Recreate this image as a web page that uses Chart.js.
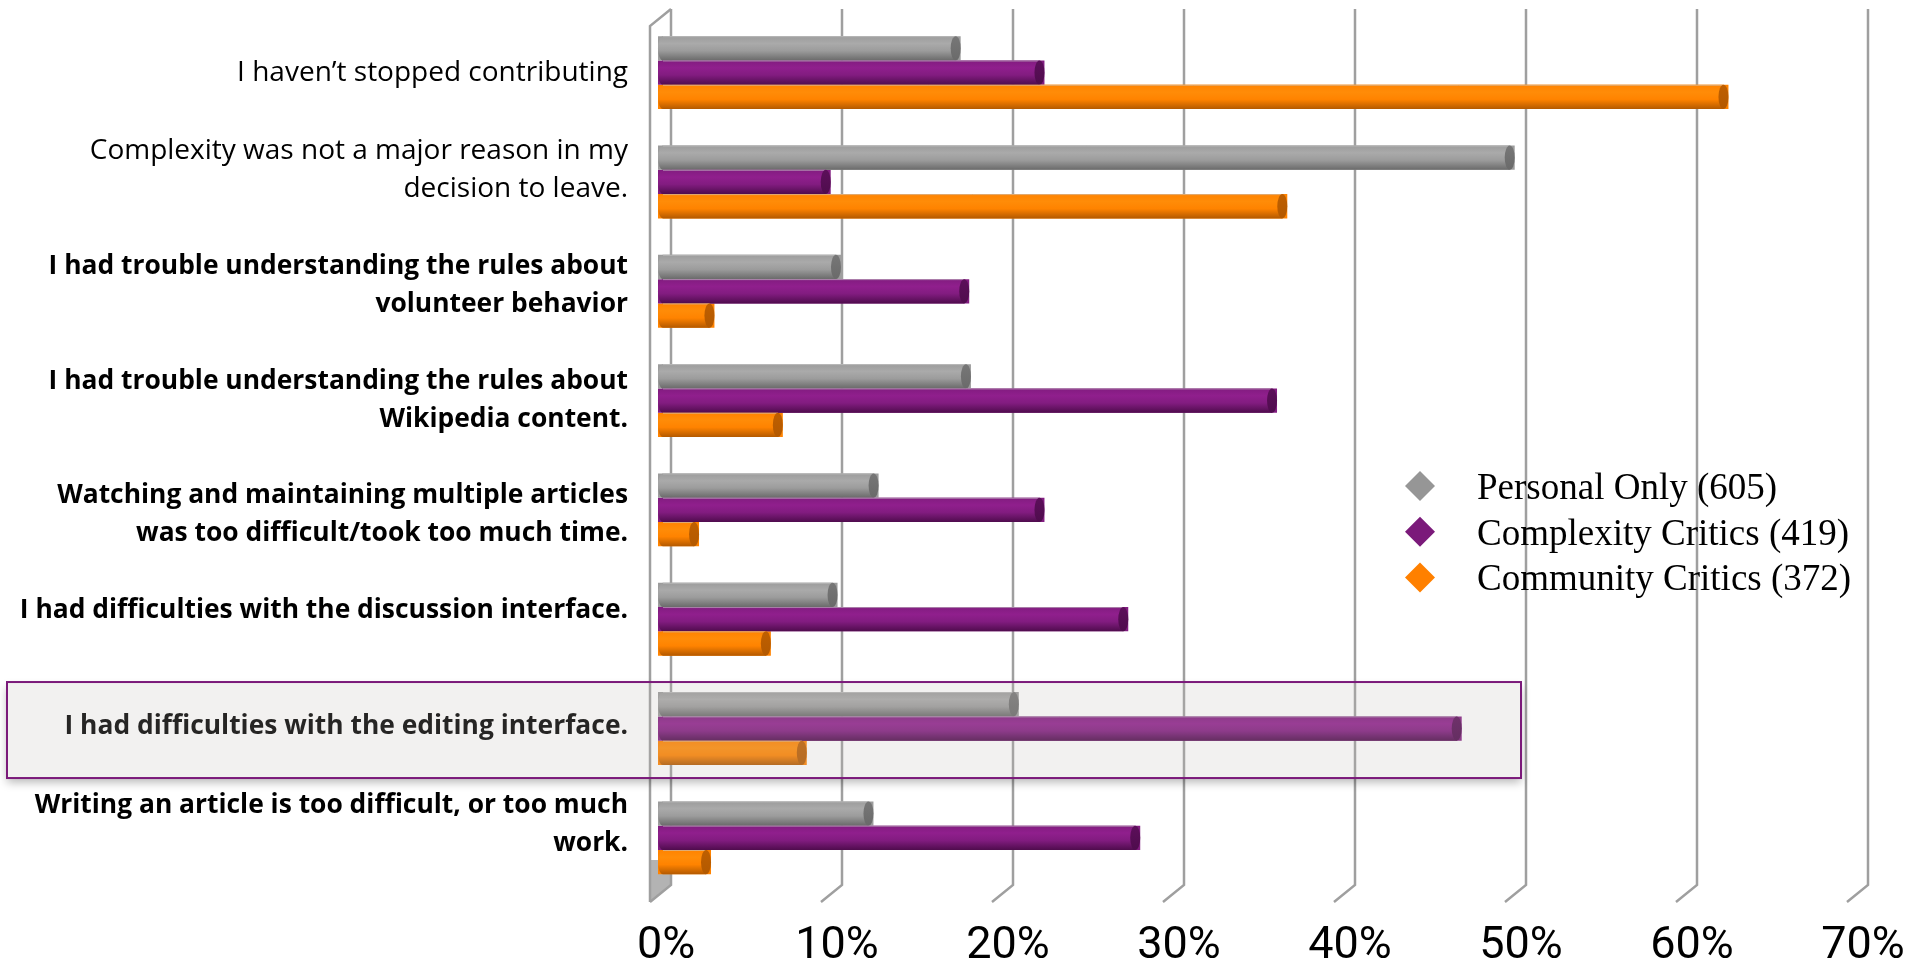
<!DOCTYPE html>
<html lang="en">
<head>
<meta charset="UTF-8">
<title>Why editors stopped contributing</title>
<script src="https://cdn.jsdelivr.net/npm/chart.js"></script>
<style>
  html, body { margin: 0; padding: 0; background: #fff; overflow: hidden; }
</style>
</head>
<body>
<canvas id="chart" width="1916" height="959"></canvas>
<script>
// answers, top to bottom
const reasons = [
  'I haven\u2019t stopped contributing',
  ['Complexity was not a major reason in my', 'decision to leave.'],
  ['I had trouble understanding the rules about', 'volunteer behavior'],
  ['I had trouble understanding the rules about', 'Wikipedia content.'],
  ['Watching and maintaining multiple articles', 'was too difficult/took too much time.'],
  'I had difficulties with the discussion interface.',
  'I had difficulties with the editing interface.',
  ['Writing an article is too difficult, or too much', 'work.']
];
const boldRows = [false, false, true, true, true, true, true, true];
const highlightRow = 6;

const seriesNames = ['Personal Only (605)', 'Complexity Critics (419)', 'Community Critics (372)'];
const personalOnly      = [17.7, 50.1, 10.7, 18.3, 12.9, 10.5, 21.1, 12.6];
const complexityCritics = [22.6, 10.1, 18.2, 36.2, 22.6, 27.5, 47.0, 28.2];
const communityCritics  = [62.6, 36.8,  3.3,  7.3,  2.4,  6.6,  8.7,  3.1];

const xTicks = [0, 10, 20, 30, 40, 50, 60, 70];

// the answer text boxes were placed by hand, not exactly on the row centre
const labelNudge = [0, -11.5, -6, 0, 5, -8.5, -2.5, -13];
const labelGap = 30, labelLine = 38;

// cylinder shading per series
const shades = [
  { base: '#9c9c9c', light: '#aaaaaa', dark: '#6a6a6a', cap: '#777777', key: '#969696' },
  { base: '#821c80', light: '#901f8d', dark: '#4f0c4d', cap: '#5c0f5a', key: '#7b1a7a' },
  { base: '#ff8300', light: '#ff8c08', dark: '#b35900', cap: '#bf5f00', key: '#ff8000' }
];

const backDx = 13;     // back wall offset from the bar plane
const floorDx = -21, floorDy = 17;
const gridTop = 9, gridBottom = 885;

const wallPlugin = {
  id: 'wall',
  beforeDatasetsDraw(chart) {
    const ctx = chart.ctx;
    const x = chart.scales.x;
    ctx.save();
    const x0 = x.getPixelForValue(0) + backDx;
    // floor edge of the side wall
    ctx.fillStyle = '#b3b3b3';
    ctx.beginPath();
    ctx.moveTo(x0 + floorDx, 860);
    ctx.lineTo(x0, 860);
    ctx.lineTo(x0, gridBottom);
    ctx.lineTo(x0 + floorDx, gridBottom + floorDy);
    ctx.closePath();
    ctx.fill();

    ctx.strokeStyle = '#9f9f9f';
    ctx.lineWidth = 2.5;
    // side wall outline
    ctx.beginPath();
    ctx.moveTo(x0, gridTop);
    ctx.lineTo(x0 + floorDx, gridTop + floorDy);
    ctx.lineTo(x0 + floorDx, gridBottom + floorDy);
    ctx.stroke();
    xTicks.forEach(v => {
      const px = x.getPixelForValue(v) + backDx;
      ctx.beginPath();
      ctx.moveTo(px, gridTop);
      ctx.lineTo(px, gridBottom);
      ctx.lineTo(px + floorDx, gridBottom + floorDy);
      ctx.stroke();
    });
    ctx.restore();
  }
};

// category text, right aligned against the bars
const answerPlugin = {
  id: 'answers',
  beforeDatasetsDraw(chart) {
    const ctx = chart.ctx;
    const yScale = chart.scales.y;
    ctx.save();
    ctx.fillStyle = '#000';
    ctx.textAlign = 'right';
    ctx.textBaseline = 'middle';
    chart.data.labels.forEach((label, i) => {
      const lines = Array.isArray(label) ? label : [label];
      ctx.font = boldRows[i] ? 'bold 26.4px "Open Sans", sans-serif' : '28px "Open Sans", sans-serif';
      const cy = yScale.getPixelForValue(i) + labelNudge[i];
      const y0 = cy - (lines.length - 1) * labelLine / 2;
      lines.forEach((line, k) => ctx.fillText(line, yScale.right - labelGap, y0 + k * labelLine));
    });
    ctx.restore();
  }
};

const cylinderPlugin = {
  id: 'cylinders',
  afterDatasetsDraw(chart) {
    const ctx = chart.ctx;
    chart.data.datasets.forEach((ds, i) => {
      const s = shades[i];
      chart.getDatasetMeta(i).data.forEach(bar => {
        const { x, y, base, height } = bar.getProps(['x', 'y', 'base', 'height'], true);
        const top = y - height / 2, bottom = y + height / 2;
        const rx = 5, ry = height / 2;
        const left = base, right = x;
        const g = ctx.createLinearGradient(0, top, 0, bottom);
        g.addColorStop(0, s.base);
        g.addColorStop(0.3, s.light);
        g.addColorStop(0.6, s.base);
        g.addColorStop(1, s.dark);
        ctx.save();
        ctx.fillStyle = g;
        ctx.beginPath();
        ctx.moveTo(left + rx, top);
        ctx.lineTo(Math.max(right - rx, left + rx), top);
        ctx.lineTo(Math.max(right - rx, left + rx), bottom);
        ctx.lineTo(left + rx, bottom);
        ctx.ellipse(left + rx, y, rx, ry, 0, Math.PI / 2, Math.PI * 1.5);
        ctx.closePath();
        ctx.fill();
        ctx.strokeStyle = 'rgba(200,200,200,0.6)';
        ctx.lineWidth = 1;
        ctx.beginPath();
        ctx.moveTo(left + rx, top + 0.5);
        ctx.lineTo(right - rx, top + 0.5);
        ctx.stroke();
        const cg = ctx.createLinearGradient(0, top, 0, bottom);
        cg.addColorStop(0, s.cap);
        cg.addColorStop(1, s.dark);
        ctx.fillStyle = cg;
        ctx.beginPath();
        ctx.ellipse(Math.max(right - rx, left + rx), y, rx, ry, 0, 0, Math.PI * 2);
        ctx.fill();
        ctx.restore();
      });
    });
  }
};

const keyPlugin = {
  id: 'key',
  afterDatasetsDraw(chart) {
    const ctx = chart.ctx;
    ctx.save();
    ctx.font = '37px "Liberation Serif", "Times New Roman", serif';
    ctx.textBaseline = 'alphabetic';
    ctx.textAlign = 'left';
    chart.data.datasets.forEach((ds, i) => {
      const cy = 486 + i * 45.7, cx = 1420, r = 15;
      ctx.fillStyle = shades[i].key;
      ctx.beginPath();
      ctx.moveTo(cx, cy - r);
      ctx.lineTo(cx + r, cy);
      ctx.lineTo(cx, cy + r);
      ctx.lineTo(cx - r, cy);
      ctx.closePath();
      ctx.fill();
      ctx.fillStyle = '#000';
      ctx.fillText(ds.label, 1477, cy + 13);
    });
    ctx.restore();
  }
};

// framed band around one answer
const highlightPlugin = {
  id: 'highlight',
  afterDraw(chart) {
    const ctx = chart.ctx;
    const yScale = chart.scales.y;
    const cy = yScale.getPixelForValue(highlightRow);
    const bx = 7, bw = 1514, bh = 96, by = cy - bh / 2 + 1.5;
    ctx.save();
    // shadow only outside the frame
    ctx.beginPath();
    ctx.rect(0, 0, chart.width, chart.height);
    ctx.rect(bx, by, bw, bh);
    ctx.clip('evenodd');
    ctx.shadowColor = 'rgba(0,0,0,0.28)';
    ctx.shadowBlur = 9;
    ctx.shadowOffsetY = 5;
    ctx.fillStyle = '#ffffff';
    ctx.fillRect(bx, by, bw, bh);
    ctx.restore();

    ctx.save();
    ctx.fillStyle = 'rgba(190,185,180,0.2)';
    ctx.fillRect(bx, by, bw, bh);
    ctx.strokeStyle = '#7b1a7a';
    ctx.lineWidth = 2;
    ctx.strokeRect(bx, by, bw, bh);
    ctx.restore();
  }
};

const datasets = [personalOnly, complexityCritics, communityCritics].map((values, i) => ({
  label: seriesNames[i],
  data: values,
  backgroundColor: shades[i].base,
  borderWidth: 0,
  categoryPercentage: 0.667,
  barPercentage: 1.0
}));

new Chart(document.getElementById('chart'), {
  type: 'bar',
  data: { labels: reasons, datasets: datasets },
  options: {
    indexAxis: 'y',
    responsive: false,
    animation: false,
    devicePixelRatio: 1,
    layout: { padding: { top: 18, right: 61, bottom: 0, left: 0 } },
    plugins: {
      legend: { display: false },
      tooltip: { enabled: false }
    },
    scales: {
      y: {
        grid: { display: false, drawTicks: false },
        border: { display: false },
        ticks: { display: false },
        afterFit(scale) {
          scale.width = 658;
          scale.paddingTop = 0;
          scale.paddingBottom = 0;
        }
      },
      x: {
        min: 0,
        max: 70,
        grid: { display: false, drawTicks: false },
        border: { display: false },
        afterBuildTicks(scale) { scale.ticks = xTicks.map(v => ({ value: v })); },
        afterFit(scale) {
          scale.height = 66.5;
          scale.paddingLeft = 0;
          scale.paddingRight = 0;
        },
        ticks: {
          color: '#000',
          padding: 27,
          labelOffset: 8,
          maxRotation: 0,
          autoSkip: false,
          callback: v => v + '%',
          font: { family: 'Roboto, "DejaVu Sans Condensed", sans-serif', size: 45 }
        }
      }
    }
  },
  plugins: [wallPlugin, answerPlugin, cylinderPlugin, keyPlugin, highlightPlugin]
});
</script>
</body>
</html>
